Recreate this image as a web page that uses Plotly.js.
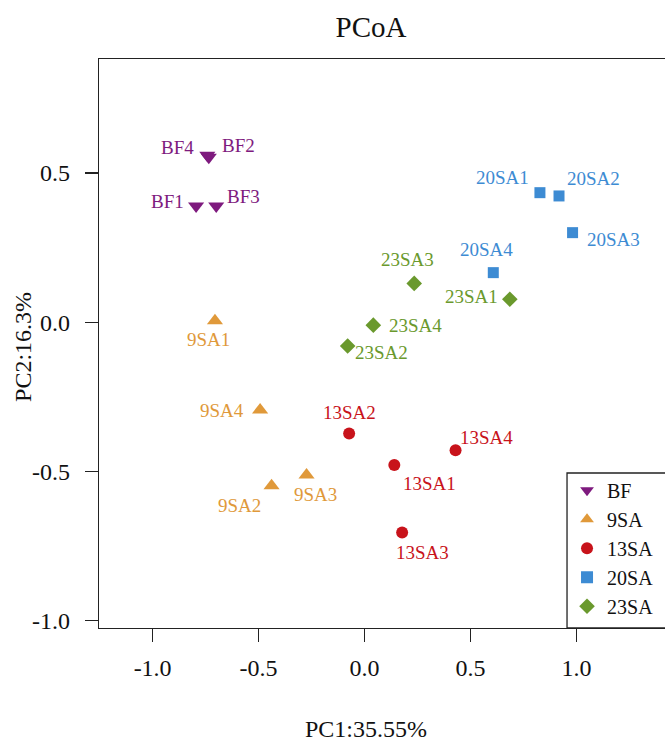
<!DOCTYPE html>
<html>
<head>
<meta charset="utf-8">
<script src="https://cdn.plot.ly/plotly-3.0.1.min.js"></script>
<style>html,body{margin:0;padding:0;background:#fff;}#chart{width:665px;height:742px;}</style>
</head>
<body>
<div id="chart"></div>
<script>
// ---- data ----
const groups = ["BF", "9SA", "13SA", "20SA", "23SA"];

const bfLabels = ["BF1", "BF2", "BF3", "BF4"];
const bfX = [-0.795, -0.735, -0.700, -0.742];
const bfY = [0.389, 0.553, 0.389, 0.559];

const sa9Labels = ["9SA1", "9SA2", "9SA3", "9SA4"];
const sa9X = [-0.706, -0.439, -0.274, -0.493];
const sa9Y = [0.005, -0.548, -0.512, -0.294];

const sa13Labels = ["13SA1", "13SA2", "13SA3", "13SA4"];
const sa13X = [0.140, -0.073, 0.177, 0.429];
const sa13Y = [-0.479, -0.373, -0.705, -0.429];

const sa20Labels = ["20SA1", "20SA2", "20SA3", "20SA4"];
const sa20X = [0.827, 0.917, 0.981, 0.607];
const sa20Y = [0.434, 0.423, 0.300, 0.166];

const sa23Labels = ["23SA1", "23SA2", "23SA3", "23SA4"];
const sa23X = [0.685, -0.080, 0.234, 0.041];
const sa23Y = [0.077, -0.080, 0.130, -0.010];

const tickVals = [-1, -0.5, 0, 0.5, 1];
const tickText = ["-1.0", "-0.5", "0.0", "0.5", "1.0"];

const chartTitle = "PCoA";
const xTitle = "PC1:35.55%";
const yTitle = "PC2:16.3%";

// ---- styles ----
const colors = ["#7E1A7E", "#E0993A", "#C8131B", "#3D8BD3", "#6A992D"];
const symbols = ["triangle-down", "triangle-up", "circle", "square", "diamond"];
const sizes = [14, 14, 12, 11, 12];
// label pixel offsets [dx, dy(down)] per sample
const bfOff = [[-29, -5], [30, -12], [27, -10], [-30, -8]];
const sa9Off = [[-6, 19], [-32, 20], [9, 20], [-38, 1]];
const sa13Off = [[35, 18], [0, -21], [20, 20], [31, -13]];
const sa20Off = [[-37, -15], [34, -17], [41, 7], [-7, -23]];
const sa23Off = [[-38, -3], [34, 6], [-7, -24], [42, 0]];

const serif = "Liberation Serif, Times New Roman, serif";

const sets = [
  [bfLabels, bfX, bfY, bfOff],
  [sa9Labels, sa9X, sa9Y, sa9Off],
  [sa13Labels, sa13X, sa13Y, sa13Off],
  [sa20Labels, sa20X, sa20Y, sa20Off],
  [sa23Labels, sa23X, sa23Y, sa23Off]
];

const traces = [];
const annotations = [];
sets.forEach((s, i) => {
  traces.push({
    type: "scatter", mode: "markers", name: groups[i],
    x: s[1], y: s[2], text: s[0], hoverinfo: "text+x+y",
    marker: {symbol: symbols[i], size: sizes[i], color: colors[i], line: {width: 0}}
  });
  s[0].forEach((lab, j) => {
    annotations.push({
      x: s[1][j], y: s[2][j], xref: "x", yref: "y", text: lab, showarrow: false,
      xshift: s[3][j][0], yshift: -s[3][j][1],
      font: {family: serif, size: 19, color: colors[i]}
    });
  });
});

annotations.push({
  xref: "paper", yref: "paper", x: 0.4717, y: -0.177, xanchor: "center", yanchor: "middle",
  text: xTitle, showarrow: false, font: {family: serif, size: 24, color: "#111"}
});
annotations.push({
  xref: "paper", yref: "paper", x: -0.1343, y: 0.494, xanchor: "center", yanchor: "middle",
  text: yTitle, showarrow: false, textangle: -90, font: {family: serif, size: 24, color: "#111"}
});

const layout = {
  width: 665, height: 742,
  margin: {l: 99, r: 0, t: 59, b: 114, pad: 0},
  paper_bgcolor: "#fff", plot_bgcolor: "#fff",
  title: {text: chartTitle, x: 0.558, xref: "container", xanchor: "center",
          y: 0.964, yref: "container", yanchor: "middle",
          font: {family: serif, size: 29, color: "#111"}},
  xaxis: {range: [-1.253, 1.417], tickvals: tickVals, ticktext: tickText,
          showgrid: false, zeroline: false, showline: true, mirror: true,
          linecolor: "#222", linewidth: 1.3, ticks: "outside", ticklen: 13, tickwidth: 1.3,
          tickcolor: "#222", ticklabelstandoff: 5,
          tickfont: {family: serif, size: 24, color: "#111"}},
  yaxis: {range: [-1.025, 0.882], tickvals: tickVals.slice(0, 4), ticktext: tickText.slice(0, 4),
          showgrid: false, zeroline: false, showline: true, mirror: false,
          linecolor: "#222", linewidth: 1.3, ticks: "outside", ticklen: 13, tickwidth: 1.3,
          tickcolor: "#222", ticklabelstandoff: 10,
          tickfont: {family: serif, size: 24, color: "#111"}},
  legend: {x: 0.8269, y: 0.004, xanchor: "left", yanchor: "bottom", xref: "paper", yref: "paper",
           bgcolor: "rgba(0,0,0,0)", borderwidth: 0,
           font: {family: serif, size: 20, color: "#111"}, itemsizing: "constant"},
  shapes: [{type: "rect", xref: "paper", yref: "paper", x0: 0.8269, x1: 1.1, y0: 0, y1: 0.2724,
            line: {color: "#222", width: 1.3}, fillcolor: "rgba(0,0,0,0)", layer: "above"}],
  showlegend: true,
  annotations: annotations
};

Plotly.newPlot("chart", traces, layout, {displayModeBar: false, staticPlot: true});
</script>
</body>
</html>
